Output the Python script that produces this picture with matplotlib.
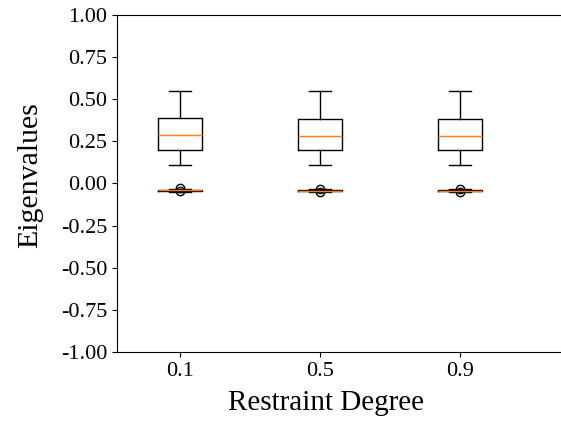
import matplotlib
matplotlib.use("Agg")
import matplotlib.pyplot as plt

plt.rcParams['font.family'] = ['Liberation Serif', 'DejaVu Serif']

tick_labels = ["0.1", "0.5", "0.9"]
positions = [1, 2, 3]

# upper group (positive eigenvalues)
hi_whislo = [0.11, 0.11, 0.11]
hi_q1 = [0.20, 0.20, 0.20]
hi_med = [0.285, 0.28, 0.28]
hi_q3 = [0.39, 0.385, 0.385]
hi_whishi = [0.55, 0.55, 0.55]

# lower group (near-zero eigenvalues)
lo_whislo = [-0.050, -0.050, -0.050]
lo_q1 = [-0.044, -0.045, -0.045]
lo_med = [-0.041, -0.042, -0.042]
lo_q3 = [-0.038, -0.039, -0.039]
lo_whishi = [-0.033, -0.034, -0.034]
lo_fliers = [[-0.025, -0.045], [-0.03, -0.05], [-0.03, -0.05]]

fig = plt.figure(figsize=(5.61, 4.23), dpi=100)
ax = fig.add_axes([117/561, 1-352/423, 1.0-117/561, (352-15)/423])

def stats(wl, q1, med, q3, wh, fl=None):
    out = []
    for i in range(len(wl)):
        out.append(dict(whislo=wl[i], q1=q1[i], med=med[i], q3=q3[i], whishi=wh[i],
                        fliers=(fl[i] if fl else [])))
    return out

ax.bxp(stats(hi_whislo, hi_q1, hi_med, hi_q3, hi_whishi), positions=positions, widths=0.32)
ax.bxp(stats(lo_whislo, lo_q1, lo_med, lo_q3, lo_whishi, lo_fliers), positions=positions, widths=0.32)

ax.set_xlim(0.55, 0.55 + 444/140)
ax.set_ylim(-1.0, 1.0)
ax.set_xticks(positions)
ax.set_xticklabels(tick_labels)
ax.set_yticks([-1.0, -0.75, -0.5, -0.25, 0.0, 0.25, 0.5, 0.75, 1.0])
ax.set_yticklabels(["-1.00", "-0.75", "-0.50", "-0.25", "0.00", "0.25", "0.50", "0.75", "1.00"])
ax.tick_params(labelsize=16)
ax.spines['right'].set_visible(False)
ax.set_xlabel("Restraint Degree", fontsize=21, labelpad=7)
ax.set_ylabel("Eigenvalues", fontsize=21.5, labelpad=13)
ax.xaxis.label.set_x(209/444)
ax.yaxis.label.set_y(0.525)

fig.savefig("out.png", dpi=100)
